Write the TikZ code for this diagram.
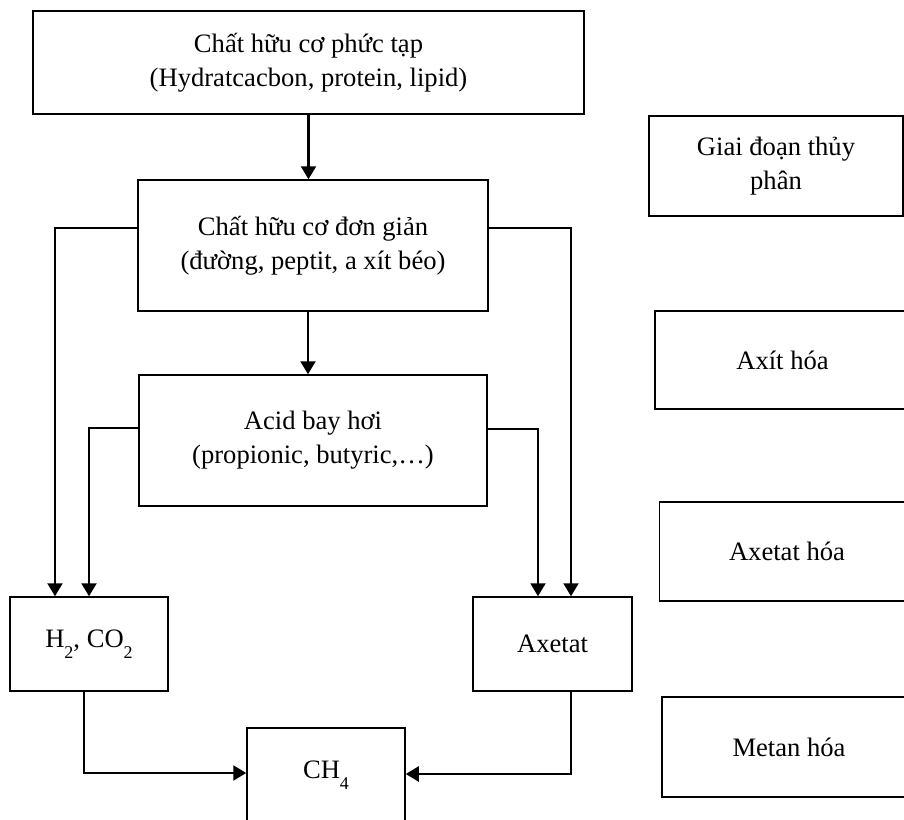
\documentclass[tikz,border=0pt]{standalone}
\usepackage{fontspec}
\setmainfont{Liberation Serif}
\usetikzlibrary{arrows.meta}
\newcommand\lowsub[1]{\raisebox{-5.5pt}{\fontsize{9}{9}\selectfont #1}}
\begin{document}
\begin{tikzpicture}[x=0.5pt,y=-0.5pt,
  box/.style={draw,line width=0.75pt,inner sep=0pt,align=center,
    font=\fontsize{13.3}{17}\selectfont},
  conn/.style={line width=1.1pt},
  arr/.style={conn,-{Triangle[length=6.5pt,width=7.5pt]}}]
\useasboundingbox (0,0) rectangle (904,819);
\clip (0,0) rectangle (904,819);
% main chain (positions: centre x, centre y in px; sizes in px*0.5pt)
\node[box,minimum width=275.5pt,minimum height=51.5pt] (top) at (308.5,62.5)
  {Chất hữu cơ phức tạp\\(Hydratcacbon, protein, lipid)};
\node[box,minimum width=175pt,minimum height=65.5pt] (b2) at (313,245.5)
  {Chất hữu cơ đơn giản\\(đường, peptit, a xít béo)};
\node[box,minimum width=174pt,minimum height=65.5pt] (b3) at (313,440.5)
  {Acid bay hơi\\(propionic, butyric,…)};
\node[box,minimum width=79pt,minimum height=47pt] (h2) at (89,644)
  {H\lowsub{2}, CO\lowsub{2}};
\node[box,minimum width=79.5pt,minimum height=47pt] (ax) at (552.5,644)
  {Axetat};
\node[box,minimum width=79pt,minimum height=47pt] (ch4) at (326,775)
  {CH\lowsub{4}};
% stage boxes
\node[box,minimum width=127pt,minimum height=50pt] (s1) at (776,166)
  {Giai đoạn thủy\\phân};
\node[box,minimum width=127.5pt,minimum height=49pt] (s2) at (782.5,360)
  {Axít hóa};
\node[box,minimum width=127.5pt,minimum height=49.5pt] (s3) at (787,551.5)
  {Axetat hóa};
\node[box,minimum width=127pt,minimum height=50pt] (s4) at (789,747)
  {Metan hóa};
% connectors
\draw[arr] (top.south) -- (top.south |- b2.north);
\draw[arr] ([xshift=-2.5pt]b2.south) -- ([xshift=-2.5pt]b3.north);
\draw[arr] ([yshift=8.75pt]b2.west) -| ([xshift=-17pt]h2.north);
\draw[arr] ([yshift=8.75pt]b2.east) -| ([xshift=9.25pt]ax.north);
\draw[arr] ([yshift=6.25pt]b3.west) -| (h2.north);
\draw[arr] ([yshift=5.75pt]b3.east) -| ([xshift=-7.25pt]ax.north);
\draw[arr] ([xshift=-2.5pt]h2.south) |- ([yshift=1pt]ch4.west);
\draw[arr] ([xshift=9.25pt]ax.south) |- ([yshift=0.5pt]ch4.east);
\end{tikzpicture}
\end{document}
